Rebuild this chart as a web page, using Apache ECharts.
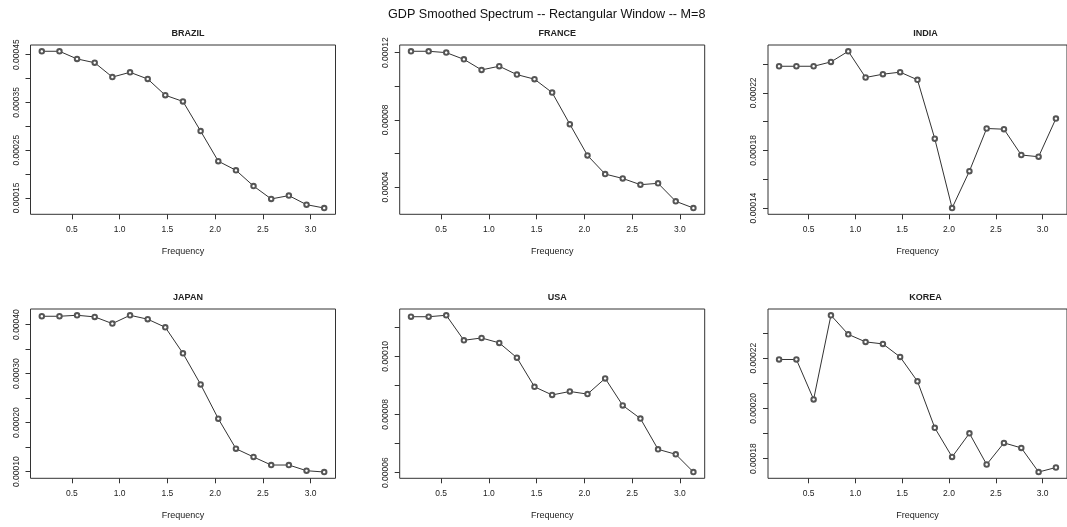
<!DOCTYPE html>
<html>
<head>
<meta charset="utf-8">
<script src="https://cdn.jsdelivr.net/npm/echarts@6/dist/echarts.min.js"></script>
<style>
html,body{margin:0;padding:0;background:#fff;}
#chart{width:1067px;height:527px;}
</style>
</head>
<body>
<div id="chart"></div>
<script>
// ---- data ----
const mainTitle = 'GDP Smoothed Spectrum -- Rectangular Window -- M=8';
const countries = ['BRAZIL', 'FRANCE', 'INDIA', 'JAPAN', 'USA', 'KOREA'];
const freq = [0.185, 0.370, 0.554, 0.739, 0.924, 1.109, 1.294, 1.478, 1.663, 1.848, 2.033, 2.218, 2.402, 2.587, 2.772, 2.957, 3.142];
const brazil = [0.000457, 0.000457, 0.000441, 0.000433, 0.000403, 0.000413, 0.000399, 0.000365, 0.000352, 0.000290, 0.000227, 0.000208, 0.000175, 0.000148, 0.000155, 0.000136, 0.000129];
const france = [0.0001208, 0.0001208, 0.0001200, 0.0001160, 0.0001097, 0.0001119, 0.0001069, 0.0001042, 0.0000962, 0.0000774, 0.0000588, 0.0000477, 0.0000451, 0.0000414, 0.0000422, 0.0000315, 0.0000275];
const india = [0.0002384, 0.0002384, 0.0002384, 0.0002414, 0.0002488, 0.0002306, 0.0002329, 0.0002343, 0.0002290, 0.0001881, 0.0001400, 0.0001656, 0.0001952, 0.0001947, 0.0001768, 0.0001756, 0.0002021];
const japan = [0.000417, 0.000417, 0.000419, 0.0004157, 0.000402, 0.000419, 0.000411, 0.0003945, 0.0003414, 0.000278, 0.000208, 0.0001468, 0.000130, 0.0001136, 0.0001136, 0.000102, 0.0000993];
const usa = [0.0001136, 0.0001136, 0.0001141, 0.0001055, 0.0001063, 0.0001046, 0.0000995, 0.0000895, 0.0000867, 0.0000879, 0.0000870, 0.0000924, 0.0000831, 0.0000786, 0.0000680, 0.0000663, 0.0000602];
const korea = [0.0002195, 0.0002195, 0.0002036, 0.0002371, 0.0002295, 0.0002265, 0.0002257, 0.0002205, 0.0002108, 0.0001923, 0.0001807, 0.0001901, 0.0001777, 0.0001863, 0.0001843, 0.0001747, 0.0001765];

const xTicks = [0.5, 1.0, 1.5, 2.0, 2.5, 3.0];
const brazilTicks = [0.00015, 0.00020, 0.00025, 0.00030, 0.00035, 0.00040, 0.00045];
const brazilLabels = [0.00015, 0.00025, 0.00035, 0.00045];
const franceTicks = [0.00004, 0.00006, 0.00008, 0.00010, 0.00012];
const franceLabels = [0.00004, 0.00008, 0.00012];
const indiaTicks = [0.00014, 0.00016, 0.00018, 0.00020, 0.00022, 0.00024];
const indiaLabels = [0.00014, 0.00018, 0.00022];
const japanTicks = [0.00010, 0.00015, 0.00020, 0.00025, 0.00030, 0.00035, 0.00040];
const japanLabels = [0.00010, 0.00020, 0.00030, 0.00040];
const usaTicks = [0.00006, 0.00007, 0.00008, 0.00009, 0.00010, 0.00011];
const usaLabels = [0.00006, 0.00008, 0.00010];
const koreaTicks = [0.00018, 0.00019, 0.00020, 0.00021, 0.00022, 0.00023];
const koreaLabels = [0.00018, 0.00020, 0.00022];

const seriesValues = [brazil, france, india, japan, usa, korea];
const yTicks = [brazilTicks, franceTicks, indiaTicks, japanTicks, usaTicks, koreaTicks];
const yLabels = [brazilLabels, franceLabels, indiaLabels, japanLabels, usaLabels, koreaLabels];

// ---- layout ----
const FONT = '"Liberation Sans", Arial, sans-serif';
const gridLefts = [30.5, 399.7, 768];
const gridTops = [45, 309];
const GW = 305, GH = 169.3;

function padRange(arr) {
  const lo = Math.min(...arr), hi = Math.max(...arr);
  const p = (hi - lo) * 0.04;
  return [lo - p, hi + p];
}
const xr = padRange(freq);

const grids = [], xAxes = [], yAxes = [], series = [], titles = [];
titles.push({
  text: mainTitle, left: 541.7, top: 3, textAlign: 'center',
  textStyle: {fontFamily: FONT, fontSize: 12.6, fontWeight: 'normal', color: '#111'}
});
for (let i = 0; i < 6; i++) {
  const row = Math.floor(i / 3), col = i % 3;
  const left = gridLefts[col], top = gridTops[row];
  grids.push({
    left: left, top: top, width: GW, height: GH,
    show: true, borderColor: '#333', borderWidth: 1, backgroundColor: 'transparent'
  });
  titles.push({
    text: countries[i], left: left + GW / 2, top: top - 21, textAlign: 'center',
    textStyle: {fontFamily: FONT, fontSize: 9, fontWeight: 'bold', color: '#222'}
  });
  xAxes.push({
    type: 'value', gridIndex: i, min: xr[0], max: xr[1],
    name: 'Frequency', nameLocation: 'middle', nameGap: 33,
    nameTextStyle: {fontFamily: FONT, fontSize: 9, color: '#222'},
    axisLine: {show: false},
    axisTick: {show: true, customValues: xTicks, length: 5, lineStyle: {color: '#333'}},
    axisLabel: {customValues: xTicks, margin: 11, fontFamily: FONT, fontSize: 8.5, color: '#222',
      formatter: v => Number(v).toFixed(1)},
    splitLine: {show: false}
  });
  const yr = padRange(seriesValues[i]);
  yAxes.push({
    type: 'value', gridIndex: i, min: yr[0], max: yr[1],
    axisLine: {show: false},
    axisTick: {show: true, customValues: yTicks[i], length: 5, lineStyle: {color: '#333'}},
    axisLabel: {customValues: yLabels[i], rotate: 90, margin: 9.5, fontFamily: FONT, fontSize: 8.5, color: '#222',
      formatter: v => Number(v).toFixed(5)},
    splitLine: {show: false}
  });
  series.push({
    type: 'line', xAxisIndex: i, yAxisIndex: i,
    data: freq.map((f, k) => [f, seriesValues[i][k]]),
    symbol: 'emptyCircle', symbolSize: 4.5, showSymbol: true,
    lineStyle: {color: '#333', width: 1},
    itemStyle: {color: '#555', borderColor: '#555', borderWidth: 0.8},
    emphasis: {disabled: true},
    silent: true
  });
}

const chart = echarts.init(document.getElementById('chart'), null, {renderer: 'canvas'});
chart.setOption({
  animation: false,
  backgroundColor: '#fff',
  title: titles,
  grid: grids,
  xAxis: xAxes,
  yAxis: yAxes,
  series: series
});
</script>
</body>
</html>
